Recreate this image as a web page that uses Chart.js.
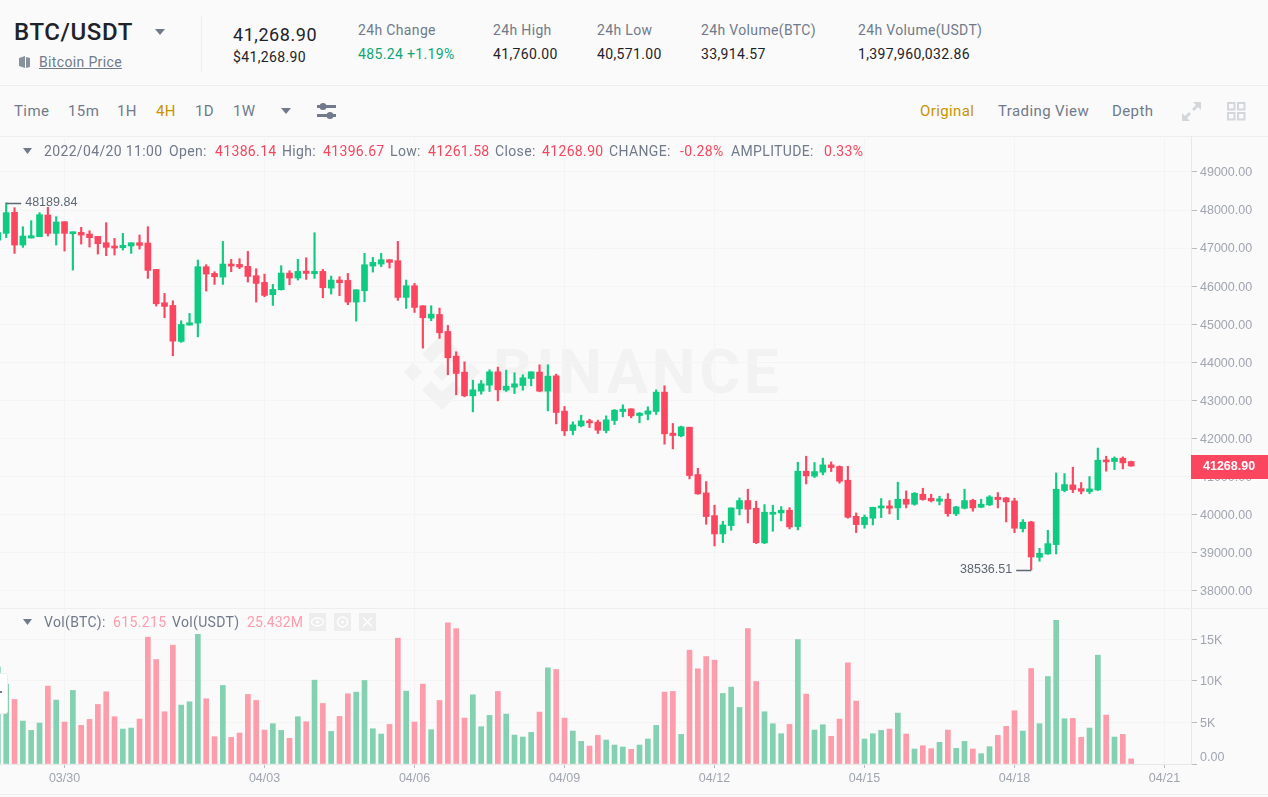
<!DOCTYPE html>
<html>
<head>
<meta charset="utf-8">
<title>BTC/USDT</title>
<script src="https://cdn.jsdelivr.net/npm/chart.js@4"></script>
<style>
  html, body { margin: 0; padding: 0; background: #fafafa; }
  body { width: 1268px; height: 797px; position: relative; overflow: hidden; font-family: Roboto, sans-serif; }
  .t { position: absolute; white-space: nowrap; line-height: 18px; font-size: 14px; letter-spacing: 0.35px; color: #707a8a; }
  .bar { font-size: 15px; letter-spacing: 0.4px; }
  .dark { color: #1e2329; }
  .red { color: #f6465d; }
  .pink { color: #ff9cab; }
  .gold { color: #c99400; }
  .hline { position: absolute; left: 0; width: 1268px; height: 1px; background: #eeeeee; }
  canvas { position: absolute; left: 0; }
  svg { position: absolute; }
</style>
</head>
<body>
<!-- header -->
<div class="t dark" style="left:14px;top:17px;font-size:24px;line-height:30px;font-weight:500;letter-spacing:0.6px;">BTC/USDT</div>
<svg style="left:155px;top:29px" width="10" height="6"><path d="M0 0H10L5 6Z" fill="#707a8a"/></svg>
<svg style="left:18px;top:55px" width="13" height="14"><path d="M1 3L7 1V13L1 11Z M8 2L12 3V12L8 13Z" fill="#8a919e"/></svg>
<div class="t" style="left:39px;top:53px;text-decoration:underline;">Bitcoin Price</div>
<div style="position:absolute;left:201px;top:16px;width:1px;height:56px;background:#eeeeee"></div>
<div class="t dark" style="left:233px;top:24px;font-size:18px;line-height:22px;letter-spacing:0.55px;">41,268.90</div>
<div class="t dark" style="left:233px;top:48px;">$41,268.90</div>
<div class="t" style="left:358px;top:21px;">24h Change</div>
<div class="t" style="left:358px;top:45px;color:#0ca678;">485.24 +1.19%</div>
<div class="t" style="left:493px;top:21px;">24h High</div>
<div class="t dark" style="left:493px;top:45px;">41,760.00</div>
<div class="t" style="left:597px;top:21px;">24h Low</div>
<div class="t dark" style="left:597px;top:45px;">40,571.00</div>
<div class="t" style="left:701px;top:21px;">24h Volume(BTC)</div>
<div class="t dark" style="left:701px;top:45px;">33,914.57</div>
<div class="t" style="left:858px;top:21px;">24h Volume(USDT)</div>
<div class="t dark" style="left:858px;top:45px;">1,397,960,032.86</div>
<div class="hline" style="top:85px"></div>

<!-- toolbar -->
<div class="t bar" style="left:14px;top:102px;">Time</div>
<div class="t bar" style="left:68px;top:102px;">15m</div>
<div class="t bar" style="left:117px;top:102px;">1H</div>
<div class="t bar gold" style="left:156px;top:102px;">4H</div>
<div class="t bar" style="left:195px;top:102px;">1D</div>
<div class="t bar" style="left:233px;top:102px;">1W</div>
<svg style="left:281px;top:108px" width="10" height="6"><path d="M0 0H10L5 6Z" fill="#707a8a"/></svg>
<svg style="left:317px;top:102px" width="20" height="18">
  <rect x="0" y="3" width="19" height="3" fill="#707a8a"/><rect x="0" y="12" width="19" height="3" fill="#707a8a"/>
  <circle cx="6" cy="4.5" r="3.5" fill="#707a8a"/><circle cx="13" cy="13.5" r="3.5" fill="#707a8a"/>
</svg>
<div class="t bar gold" style="left:920px;top:102px;">Original</div>
<div class="t bar" style="left:998px;top:102px;">Trading View</div>
<div class="t bar" style="left:1112px;top:102px;">Depth</div>
<svg style="left:1181px;top:101px" width="21" height="21">
  <path d="M12 1H20V9L17 6L13 10L11 8L15 4Z M9 20H1V12L4 15L8 11L10 13L6 17Z" fill="#d3d6db"/>
</svg>
<svg style="left:1227px;top:102px" width="19" height="19" fill="none" stroke="#d3d6db" stroke-width="2">
  <rect x="1" y="1" width="6.5" height="6.5"/><rect x="11" y="1" width="6.5" height="6.5"/>
  <rect x="1" y="11" width="6.5" height="6.5"/><rect x="11" y="11" width="6.5" height="6.5"/>
</svg>
<div class="hline" style="top:136px"></div>

<!-- watermark sits under the canvases -->
<svg style="left:404px;top:334px" width="76" height="76" viewBox="-38 -38 76 76" fill="#f2f2f2">
  <path d="M0 -9L9 0L0 9L-9 0Z M-29 -9L-20 0L-29 9L-38 0Z M29 -9L38 0L29 9L20 0Z"/>
  <path d="M0 -38L20 -18L11 -9L0 -20L-11 -9L-20 -18Z M0 38L20 18L11 9L0 20L-11 9L-20 18Z"/>
</svg>
<div class="t" style="left:493px;top:338px;font-size:62px;line-height:68px;font-weight:700;color:#f2f2f2;letter-spacing:3.8px;">BINANCE</div>

<canvas id="priceChart" width="1268" height="472" style="top:136px"></canvas>
<canvas id="volChart" width="1268" height="189" style="top:608px"></canvas>
<div class="hline" style="top:608px"></div>
<div class="hline" style="top:794px"></div>

<!-- candle legend row -->
<svg style="left:23px;top:148px" width="9" height="6"><path d="M0 0H9L4.5 6Z" fill="#707a8a"/></svg>
<div class="t" style="left:44px;top:142px;">2022/04/20 11:00</div>
<div class="t" style="left:169px;top:142px;">Open:</div>
<div class="t red" style="left:215px;top:142px;">41386.14</div>
<div class="t" style="left:282px;top:142px;">High:</div>
<div class="t red" style="left:323px;top:142px;">41396.67</div>
<div class="t" style="left:390px;top:142px;">Low:</div>
<div class="t red" style="left:428px;top:142px;">41261.58</div>
<div class="t" style="left:495px;top:142px;">Close:</div>
<div class="t red" style="left:542px;top:142px;">41268.90</div>
<div class="t" style="left:609px;top:142px;">CHANGE:</div>
<div class="t red" style="left:680px;top:142px;">-0.28%</div>
<div class="t" style="left:731px;top:142px;">AMPLITUDE:</div>
<div class="t red" style="left:824px;top:142px;">0.33%</div>

<!-- volume legend row -->
<svg style="left:23px;top:619px" width="9" height="6"><path d="M0 0H9L4.5 6Z" fill="#707a8a"/></svg>
<div class="t" style="left:44px;top:613px;">Vol(BTC):</div>
<div class="t pink" style="left:113px;top:613px;">615.215</div>
<div class="t" style="left:172px;top:613px;">Vol(USDT)</div>
<div class="t pink" style="left:247px;top:613px;letter-spacing:0.1px;">25.432M</div>
<svg style="left:309px;top:613px" width="68" height="18">
  <rect x="0" y="0" width="17" height="18" fill="#ededed"/><rect x="25" y="0" width="17" height="18" fill="#ededed"/><rect x="50" y="0" width="17" height="18" fill="#ededed"/>
  <ellipse cx="8.5" cy="9" rx="6" ry="4" fill="none" stroke="#fff" stroke-width="1.3"/><circle cx="8.5" cy="9" r="1.6" fill="#fff"/>
  <circle cx="33.5" cy="9" r="5" fill="none" stroke="#fff" stroke-width="1.6"/><circle cx="33.5" cy="9" r="1.5" fill="#fff"/>
  <path d="M54 4.5L63 13.5M63 4.5L54 13.5" stroke="#fff" stroke-width="1.3"/>
</svg>
<!-- collapse handle on the left edge -->
<div style="position:absolute;left:-3px;top:673px;width:9px;height:39px;background:#fff;border:1px solid #eeeeee;border-radius:3px;"></div>
<div style="position:absolute;left:0;top:691px;width:2px;height:2px;background:#707a8a;"></div>

<script>
// 4H candles, first one is cut off by the left edge of the chart
const opens = [47210,
  47386, 47939, 47079, 47263, 47298, 47868, 47386, 47693, 47377, 47412,
  47368, 47307, 47140, 47053, 47009, 47053, 47140, 47131, 46438, 45561,
  45491, 44544, 44974, 45026, 46509, 46333, 46237, 46579, 46570, 46518,
  46272, 46096, 45772, 45904, 46342, 46211, 46395, 46324, 46386, 45947,
  46158, 46149, 45579, 45877, 46526, 46579, 46693, 46667, 45702, 46009,
  45482, 45158, 45254, 44807, 44158, 43737, 43114, 43237, 43395, 43746,
  43263, 43342, 43386, 43570, 43737, 43237, 43640, 42710, 42202, 42324,
  42456, 42421, 42202, 42465, 42702, 42772, 42596, 42632, 42702, 43211,
  42132, 42061, 42289, 41044, 40561, 39965, 39482, 39702, 40140, 40360,
  40158, 39246, 40000, 40035, 40105, 39675, 41132, 41000, 41105, 41298,
  41254, 40895, 39947, 39728, 39895, 40167, 40219, 40167, 40395, 40263,
  40526, 40421, 40342, 40395, 40009, 40158, 40368, 40184, 40246, 40447,
  40430, 40351, 39623, 39798, 38868, 38956, 39202, 40623, 40772, 40675,
  40596, 40640, 41421, 41386, 41474, 41386.14];
const highs = [47450,
  48189.84, 48061, 47561, 47719, 47930, 48070, 47825, 47693, 47421, 47544,
  47456, 47307, 47667, 47254, 47386, 47140, 47342, 47561, 46438, 45807,
  45614, 45088, 45281, 46684, 46561, 46377, 47175, 46702, 46719, 46912,
  46456, 46316, 46044, 46535, 46404, 46702, 46745, 47403, 46439, 46263,
  46246, 46333, 45903, 46860, 46754, 46860, 46693, 47175, 46158, 46070,
  45482, 45482, 45421, 44965, 44272, 44009, 43526, 43518, 43798, 43868,
  43789, 43719, 43667, 43746, 43930, 43930, 43684, 42833, 42430, 42605,
  42500, 42474, 42588, 42754, 42877, 42772, 42675, 42825, 43272, 43377,
  42386, 42316, 42289, 41211, 40860, 40237, 39816, 40167, 40430, 40658,
  40342, 40254, 40237, 40202, 40175, 41368, 41526, 41360, 41474, 41377,
  41272, 41263, 40035, 39982, 40184, 40412, 40360, 40842, 40614, 40570,
  40684, 40526, 40474, 40544, 40210, 40658, 40395, 40395, 40491, 40570,
  40447, 40421, 39860, 39816, 39105, 39579, 41088, 41070, 41237, 40833,
  40991, 41740, 41526, 41509, 41509, 41396.67];
const lows = [47167,
  47272, 46860, 47018, 47263, 47298, 47316, 47079, 46921, 46421, 47105,
  47026, 46842, 46798, 46816, 46947, 46860, 46974, 46202, 45474, 45167,
  44167, 44518, 44974, 44667, 45868, 46044, 46044, 46377, 46456, 46105,
  45579, 45719, 45491, 45895, 46035, 46158, 46175, 46202, 45693, 45789,
  45746, 45509, 45079, 45588, 46368, 46509, 46474, 45623, 45412, 45307,
  44368, 45088, 44623, 43667, 43140, 43088, 42693, 43158, 43228, 42982,
  43228, 43175, 43263, 43377, 43219, 42719, 42377, 42070, 42088, 42298,
  42281, 42123, 42140, 42360, 42561, 42535, 42404, 42482, 42623, 41842,
  41719, 42035, 40930, 40526, 39737, 39167, 39254, 39579, 39982, 39772,
  39228, 39228, 39553, 39825, 39614, 39588, 40798, 40965, 41035, 41123,
  40816, 39895, 39518, 39632, 39719, 39912, 40009, 39860, 40167, 40237,
  40368, 40324, 40246, 39947, 39965, 40140, 40079, 40175, 40228, 40167,
  39798, 39518, 39535, 38536.51, 38763, 38947, 38956, 40588, 40570, 40535,
  40544, 40623, 41132, 41175, 41193, 41261.58];
const closes = [47404,
  47930, 47079, 47316, 47325, 47877, 47386, 47684, 47386, 47421, 47342,
  47272, 47114, 47018, 47000, 47070, 47140, 47070, 46412, 45535, 45465,
  44552, 44991, 45035, 46509, 46316, 46246, 46579, 46526, 46500, 46254,
  46070, 45754, 45912, 46342, 46211, 46386, 46333, 46386, 45956, 46158,
  46088, 45579, 45903, 46561, 46623, 46693, 46623, 45702, 46009, 45438,
  45167, 45263, 44772, 44114, 43702, 43114, 43272, 43430, 43746, 43272,
  43368, 43430, 43588, 43746, 43237, 43632, 42675, 42193, 42351, 42456,
  42404, 42211, 42482, 42737, 42763, 42588, 42658, 42719, 43211, 42114,
  42070, 42298, 41018, 40535, 39939, 39482, 39719, 40167, 40360, 40132,
  39254, 40053, 40053, 40105, 39667, 41132, 41009, 41123, 41298, 41228,
  40868, 39921, 39728, 39921, 40184, 40219, 40158, 40395, 40263, 40553,
  40386, 40351, 40404, 40017, 40193, 40360, 40167, 40263, 40456, 40386,
  40324, 39632, 39789, 38877, 38974, 39228, 40658, 40781, 40649, 40605,
  40667, 41421, 41377, 41474, 41351, 41268.90];
const volumes = [11680,
  9600, 7760, 5160, 4040, 4920, 9360, 7680, 5040, 8840, 4640,
  5360, 7160, 8680, 5680, 4200, 4320, 5400, 15240, 12560, 6280,
  14280, 7080, 7480, 15600, 7840, 3280, 9440, 3200, 3720, 8360,
  7640, 4080, 4840, 4040, 3080, 5680, 5080, 10080, 7280, 3920,
  5720, 8440, 8640, 10040, 4240, 3600, 4760, 15120, 8760, 5040,
  9600, 4120, 7640, 16960, 16280, 5520, 8320, 4480, 5840, 8720,
  6000, 3480, 3240, 3800, 6240, 11560, 11360, 5520, 3960, 2720,
  2160, 3440, 2880, 2280, 2040, 1760, 2280, 3000, 4640, 8640,
  8720, 3560, 13680, 11440, 12920, 12480, 8480, 9240, 6800, 16280,
  9920, 6280, 4840, 3640, 4760, 14960, 8400, 4080, 4720, 3320,
  5400, 12160, 7560, 3000, 3640, 4040, 4200, 6120, 3600, 1800,
  2200, 1840, 2600, 4080, 1880, 2720, 1800, 1240, 2080, 3440,
  4520, 6400, 3960, 11480, 4840, 10520, 17280, 5440, 5480, 3200,
  4320, 13080, 5880, 3240, 3560, 615.215];

const priceTicks = [38000, 39000, 40000, 41000, 42000, 43000, 44000, 45000, 46000, 47000, 48000, 49000];
const volTicks = [0, 5000, 10000, 15000];
const dateTickIndex = [8, 32, 50, 68, 86, 104, 122, 140];
const dateTickLabels = ['03/30', '04/03', '04/06', '04/09', '04/12', '04/15', '04/18', '04/21'];

const UP = '#0ecb81';
const DOWN = '#fb4660';
const UP_VOL = '#84d1b1';
const DOWN_VOL = '#fd9dab';
const GRID = '#f4f4f4';
const AXIS = '#e8e8e8';
const TICK_TEXT = '#a0a5b0';
const AXIS_FONT = { family: '"Liberation Sans", Arial, sans-serif', size: 12.5 };

const candleColors = opens.map((o, i) => closes[i] >= o ? UP : DOWN);
const volColors = opens.map((o, i) => closes[i] >= o ? UP_VOL : DOWN_VOL);

// same horizontal mapping in both panes
const xScale = (showLabels) => ({
  type: 'linear',
  offset: false,
  min: 0.256,
  max: 143.18,
  border: { display: showLabels, color: AXIS },
  grid: { offset: false, color: GRID, drawTicks: showLabels, tickLength: 4, tickColor: '#b7bbc4' },
  afterBuildTicks: (scale) => { scale.ticks = dateTickIndex.map(v => ({ value: v })); },
  afterFit: (scale) => {
    scale.height = showLabels ? 33 : 0;
    scale.paddingLeft = 0;
    scale.paddingRight = 0;
  },
  ticks: {
    display: showLabels,
    autoSkip: false,
    maxRotation: 0,
    padding: 3,
    color: TICK_TEXT,
    font: AXIS_FONT,
    callback: (value, index) => dateTickLabels[index],
  },
});

const yScale = (min, max, tickValues, format) => ({
  type: 'linear',
  position: 'right',
  min: min,
  max: max,
  border: { color: AXIS },
  grid: { color: GRID, tickLength: 6, tickColor: '#b7bbc4' },
  afterBuildTicks: (scale) => { scale.ticks = tickValues.map(v => ({ value: v })); },
  afterFit: (scale) => {
    scale.width = 77;
    scale.paddingTop = 0;
    scale.paddingBottom = 0;
  },
  ticks: {
    padding: 3,
    labelOffset: 1,
    autoSkip: false,
    color: TICK_TEXT,
    font: AXIS_FONT,
    callback: format,
  },
});

// high / low callouts and the last price tag
const pricePlugin = {
  id: 'priceMarks',
  afterDraw(chart) {
    const { ctx, scales: { x, y }, chartArea } = chart;
    const high = Math.max(...highs);
    const low = Math.min(...lows);
    const hx = x.getPixelForValue(highs.indexOf(high));
    const lx = x.getPixelForValue(lows.indexOf(low));
    const hy = y.getPixelForValue(high);
    const ly = y.getPixelForValue(low);
    ctx.save();
    ctx.strokeStyle = '#5e6673';
    ctx.lineWidth = 1.3;
    ctx.fillStyle = '#5e6673';
    ctx.font = '12.5px "Liberation Sans", Arial, sans-serif';
    ctx.textBaseline = 'middle';
    ctx.beginPath();
    ctx.moveTo(hx, Math.round(hy) + 0.5);
    ctx.lineTo(hx + 15, Math.round(hy) + 0.5);
    ctx.moveTo(lx, Math.round(ly) + 0.5);
    ctx.lineTo(lx - 15, Math.round(ly) + 0.5);
    ctx.stroke();
    ctx.textAlign = 'left';
    ctx.fillText(high.toFixed(2), hx + 19, hy);
    ctx.textAlign = 'right';
    ctx.fillText(low.toFixed(2), lx - 19, ly);

    const last = closes[closes.length - 1];
    const py = y.getPixelForValue(last);
    ctx.fillStyle = DOWN;
    ctx.fillRect(chartArea.right, py - 11, chart.width - chartArea.right, 24);
    ctx.fillStyle = '#ffffff';
    ctx.font = 'bold 12.5px "Liberation Sans", Arial, sans-serif';
    ctx.textAlign = 'left';
    ctx.fillText(last.toFixed(2), chartArea.right + 12, py + 1);
    ctx.restore();
  },
};

new Chart(document.getElementById('priceChart'), {
  type: 'bar',
  plugins: [pricePlugin],
  data: {
    datasets: [
      {
        label: 'Body',
        data: opens.map((o, i) => ({ x: i, y: [o, closes[i]] })),
        backgroundColor: candleColors,
        barThickness: 6,
        minBarLength: 2,
        grouped: false,
      },
      {
        label: 'Wick',
        data: lows.map((l, i) => ({ x: i, y: [l, highs[i]] })),
        backgroundColor: candleColors,
        barThickness: 1.5,
        grouped: false,
      },
    ],
  },
  options: {
    responsive: false,
    animation: false,
    layout: { padding: 0 },
    plugins: { legend: { display: false }, tooltip: { enabled: false } },
    scales: {
      x: xScale(false),
      y: yScale(37535, 49946, priceTicks, v => v.toFixed(2)),
    },
  },
});

new Chart(document.getElementById('volChart'), {
  type: 'bar',
  data: {
    datasets: [{
      label: 'Vol(BTC)',
      data: volumes.map((v, i) => ({ x: i, y: v })),
      backgroundColor: volColors,
      barThickness: 5,
    }],
  },
  options: {
    responsive: false,
    animation: false,
    layout: { padding: 0 },
    plugins: { legend: { display: false }, tooltip: { enabled: false } },
    scales: {
      x: xScale(true),
      // the blank second line lifts 0.00 above its tick, same as the reference
      y: yScale(0, 18750, volTicks, v => v === 0 ? ['0.00', ''] : (v / 1000) + 'K'),
    },
  },
});
</script>
</body>
</html>
